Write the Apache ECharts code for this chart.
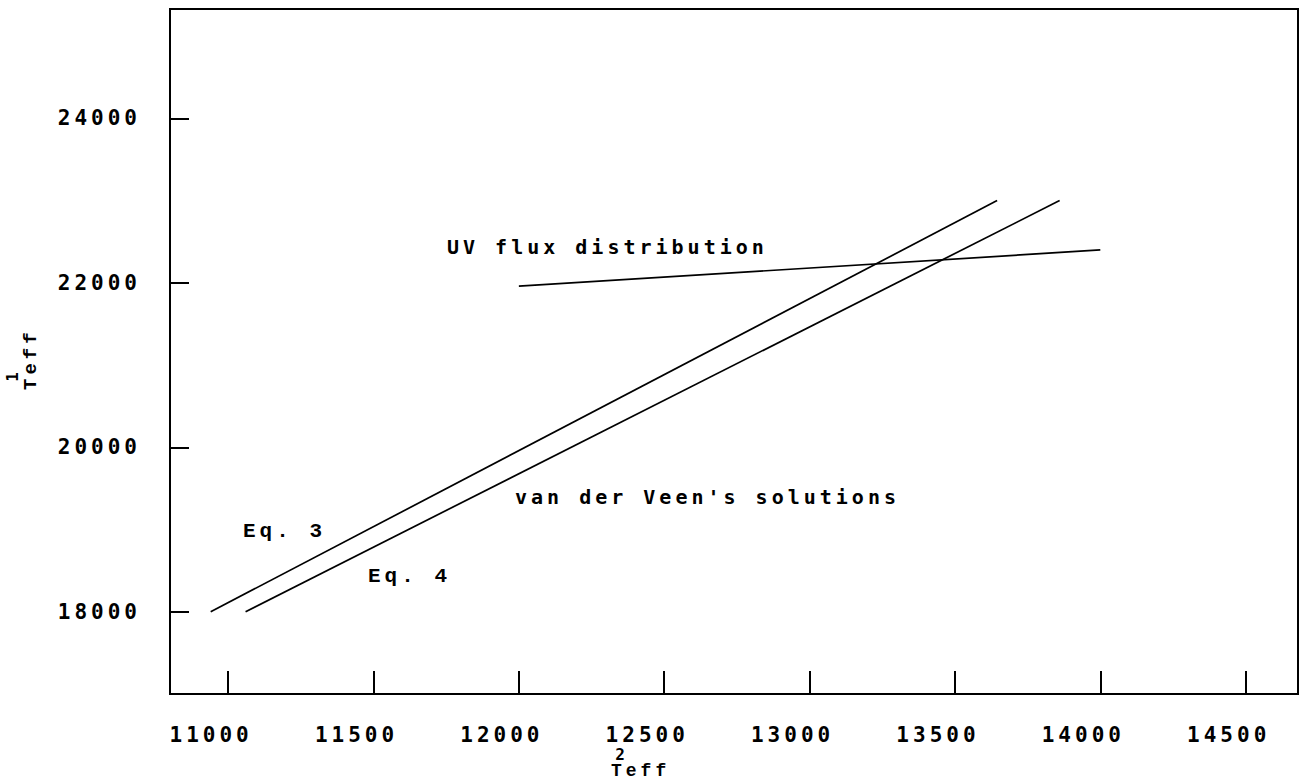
<!DOCTYPE html>
<html>
<head>
<meta charset="utf-8">
<script src="https://cdn.jsdelivr.net/npm/echarts@6/dist/echarts.min.js"></script>
<style>
  html, body { margin: 0; padding: 0; background: #fff; }
  #chart { width: 1301px; height: 783px; }
  /* wide, spaced-out plotter lettering */
  #chart text { letter-spacing: 4px; }
</style>
</head>
<body>
<div id="chart"></div>
<script>
// Axis ticks
const xTicks = [11000, 11500, 12000, 12500, 13000, 13500, 14000, 14500];
const yTicks = [18000, 20000, 22000, 24000];

// Solution lines (Teff(2), Teff(1))
const eq3 = [[10940, 18000], [13645, 23000]];
const eq4 = [[11060, 18000], [13860, 23000]];
const uvFlux = [[12000, 21960], [14000, 22400]];

const INK = '#000';
const FONT = '"DejaVu Sans Mono", monospace';
const SERIF_MONO = '"Liberation Mono", monospace';

function lineSeries(name, data) {
  return {
    name: name,
    type: 'line',
    data: data,
    showSymbol: false,
    silent: true,
    lineStyle: { color: INK, width: 1.7 }
  };
}

function note(text, x, y, size, family) {
  return {
    type: 'text', x: x, y: y, silent: true,
    style: { text: text, fill: INK, font: 'bold ' + size + 'px ' + (family || FONT), verticalAlign: 'middle', align: 'left' }
  };
}

const plain = v => String(v);

const chart = echarts.init(document.getElementById('chart'), null, { renderer: 'svg' });
chart.setOption({
  animation: false,
  backgroundColor: '#fff',
  grid: { left: 170, right: 3, top: 9, bottom: 89, show: true, borderColor: INK, borderWidth: 2 },
  xAxis: {
    type: 'value', min: 10800, max: 14680,
    axisLine: { show: true, lineStyle: { color: INK, width: 2 } },
    axisTick: { show: true, inside: true, length: 23, customValues: xTicks, lineStyle: { color: INK, width: 2 } },
    axisLabel: { customValues: xTicks, formatter: plain, margin: 30, color: INK, fontFamily: FONT, fontWeight: 'bold', fontSize: 21, padding: [0, 34, 0, 0] },
    splitLine: { show: false }
  },
  yAxis: {
    type: 'value', min: 17000, max: 25330,
    axisLine: { show: true, lineStyle: { color: INK, width: 2 } },
    axisTick: { show: true, inside: true, length: 19, customValues: yTicks, lineStyle: { color: INK, width: 2 } },
    axisLabel: { customValues: yTicks, formatter: plain, margin: 29, color: INK, fontFamily: FONT, fontWeight: 'bold', fontSize: 21 },
    splitLine: { show: false }
  },
  series: [
    lineSeries('Eq. 3', eq3),
    lineSeries('Eq. 4', eq4),
    lineSeries('UV flux distribution', uvFlux)
  ],
  graphic: [
    note('UV flux distribution', 447, 247, 20),
    note("van der Veen's solutions", 515, 497, 20),
    note('Eq. 3', 243, 531, 21, SERIF_MONO),
    note('Eq. 4', 368, 576, 21, SERIF_MONO),
    // x-axis title: Teff with superscript 2
    note('Teff', 611, 771, 18, SERIF_MONO),
    { type: 'text', x: 622, y: 754, silent: true,
      style: { text: '2', fill: INK, font: 'bold 16px ' + FONT, align: 'center', verticalAlign: 'middle' } },
    // y-axis title: Teff with superscript 1, reading upward
    { type: 'text', x: 31, y: 390, rotation: Math.PI / 2, silent: true,
      style: { text: 'Teff', fill: INK, font: 'bold 19px ' + SERIF_MONO, align: 'left', verticalAlign: 'middle' } },
    { type: 'text', x: 12, y: 375, rotation: Math.PI / 2, silent: true,
      style: { text: '1', fill: INK, font: 'bold 16px ' + FONT, align: 'center', verticalAlign: 'middle' } }
  ]
});
</script>
</body>
</html>
